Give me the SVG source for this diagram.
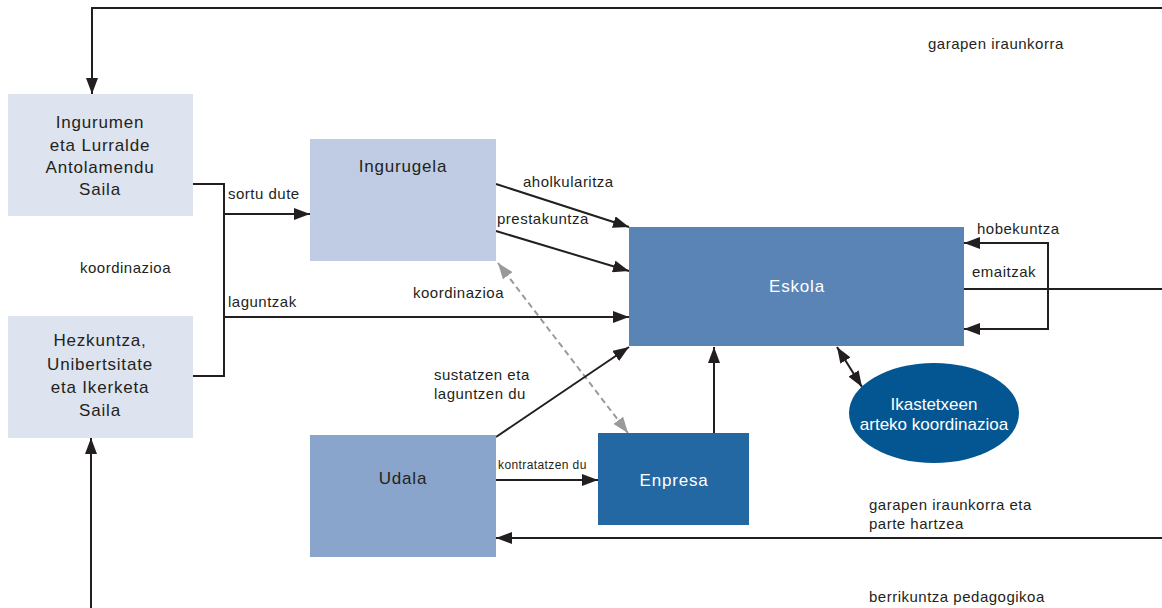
<svg xmlns="http://www.w3.org/2000/svg" width="1162" height="608" viewBox="0 0 1162 608">
<style>
.t{font-family:"Liberation Sans",Arial,sans-serif;font-size:15px;letter-spacing:0.5px;fill:#231f20}
.n{font-family:"Liberation Sans",Arial,sans-serif;font-size:17px;letter-spacing:0.8px;fill:#231f20;text-anchor:middle}
.w{fill:#ffffff}
.e{letter-spacing:0}
.c{fill:none;stroke:#231f20;stroke-width:2}
.d{fill:none;stroke:#9a9a9a;stroke-width:2;stroke-dasharray:6,4}
</style>
<defs>
<marker id="a" viewBox="0 0 16 12" refX="16" refY="6" markerWidth="16" markerHeight="12" markerUnits="userSpaceOnUse" orient="auto-start-reverse"><path d="M0,0 L16,6 L0,12 Z" fill="#231f20"/></marker>
<marker id="g" viewBox="0 0 16 12" refX="16" refY="6" markerWidth="16" markerHeight="12" markerUnits="userSpaceOnUse" orient="auto-start-reverse"><path d="M0,0 L16,6 L0,12 Z" fill="#9a9a9a"/></marker>
</defs>
<rect width="1162" height="608" fill="#ffffff"/>
<g id="connectors">
<polyline class="c" points="1162,8 92,8 92,94" marker-end="url(#a)"/>
<polyline class="c" points="91,608 91,438" marker-end="url(#a)"/>
<polyline class="c" points="193,184 224,184 224,376 193,376"/>
<line class="c" x1="224" y1="214" x2="310" y2="214" marker-end="url(#a)"/>
<line class="c" x1="224" y1="317" x2="629" y2="317" marker-end="url(#a)"/>
<line class="c" x1="496" y1="184" x2="629" y2="227" marker-end="url(#a)"/>
<line class="c" x1="496" y1="231" x2="629" y2="271" marker-end="url(#a)"/>
<line class="d" x1="498" y1="263" x2="628" y2="433" marker-start="url(#g)" marker-end="url(#g)"/>
<line class="c" x1="496" y1="437" x2="629" y2="347" marker-end="url(#a)"/>
<line class="c" x1="496" y1="480" x2="598" y2="480" marker-end="url(#a)"/>
<line class="c" x1="714" y1="433" x2="714" y2="347" marker-end="url(#a)"/>
<line class="c" x1="837" y1="347" x2="862" y2="387" marker-start="url(#a)" marker-end="url(#a)"/>
<line class="c" x1="964" y1="289" x2="1162" y2="289"/>
<polyline class="c" points="964,243 1048,243 1048,329 964,329" marker-start="url(#a)" marker-end="url(#a)"/>
<line class="c" x1="1162" y1="538" x2="496" y2="538" marker-end="url(#a)"/>
</g>
<g id="labels">
<text class="t" x="928" y="49">garapen iraunkorra</text>
<text class="t" x="228" y="199">sortu dute</text>
<text class="t" x="80" y="273">koordinazioa</text>
<text class="t" x="228" y="307">laguntzak</text>
<text class="t" x="413" y="298">koordinazioa</text>
<text class="t" x="523" y="187">aholkularitza</text>
<text class="t" x="497" y="224">prestakuntza</text>
<text class="t" x="977" y="234">hobekuntza</text>
<text class="t" x="972" y="277">emaitzak</text>
<text class="t" x="434" y="380">sustatzen eta</text>
<text class="t" x="434" y="399">laguntzen du</text>
<text class="t" x="498" y="469" style="font-size:12px;letter-spacing:0.4px">kontratatzen du</text>
<text class="t" x="869" y="510">garapen iraunkorra eta</text>
<text class="t" x="869" y="529">parte hartzea</text>
<text class="t" x="869" y="602">berrikuntza pedagogikoa</text>
</g>
<g id="ingurumen">
<rect x="8" y="94" width="185" height="122" fill="#dde3ef"/>
<text class="n" x="100" y="128">Ingurumen</text>
<text class="n" x="100" y="151">eta Lurralde</text>
<text class="n" x="100" y="173">Antolamendu</text>
<text class="n" x="100" y="195">Saila</text>
</g>
<g id="hezkuntza">
<rect x="8" y="316" width="185" height="122" fill="#dde3ef"/>
<text class="n" x="100" y="346">Hezkuntza,</text>
<text class="n" x="100" y="370">Unibertsitate</text>
<text class="n" x="100" y="393">eta Ikerketa</text>
<text class="n" x="100" y="416">Saila</text>
</g>
<g id="ingurugela">
<rect x="310" y="139" width="186" height="122" fill="#bfcce3"/>
<text class="n" x="403" y="172">Ingurugela</text>
</g>
<g id="eskola">
<rect x="629" y="227" width="335" height="119" fill="#5b84b6"/>
<text class="n w" x="797" y="292">Eskola</text>
</g>
<g id="udala">
<rect x="310" y="435" width="186" height="122" fill="#8aa5cb"/>
<text class="n" x="403" y="484">Udala</text>
</g>
<g id="enpresa">
<rect x="598" y="433" width="151" height="92" fill="#2367a3"/>
<text class="n w" x="674" y="486">Enpresa</text>
</g>
<g id="ikastetxeen">
<ellipse cx="934" cy="413" rx="85" ry="50" fill="#045693"/>
<text class="n w e" x="934" y="410">Ikastetxeen</text>
<text class="n w e" x="934" y="430">arteko koordinazioa</text>
</g>
</svg>
